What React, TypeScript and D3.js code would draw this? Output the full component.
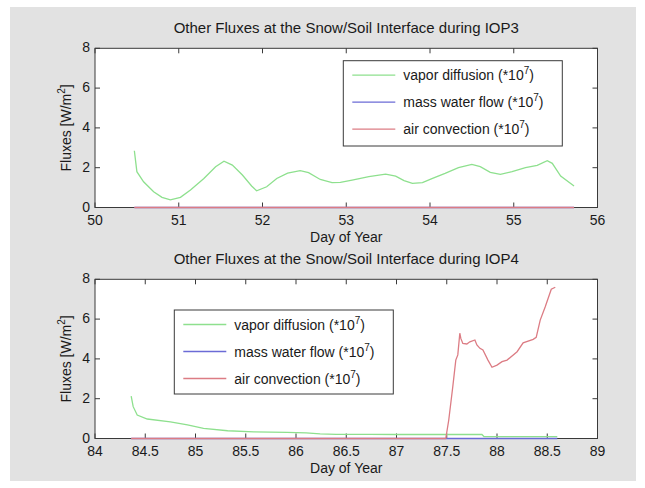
import React from "react";
import * as d3 from "d3";

// IOP3 fluxes (values scaled by 1e7)
const iop3VaporDay = [50.47, 50.5, 50.58, 50.7, 50.8, 50.9, 51.02, 51.14, 51.3, 51.44, 51.54, 51.64, 51.76, 51.87, 51.93, 52.05, 52.17, 52.3, 52.45, 52.55, 52.69, 52.83, 52.93, 53.07, 53.27, 53.47, 53.59, 53.69, 53.79, 53.91, 54.03, 54.18, 54.34, 54.5, 54.6, 54.72, 54.84, 54.98, 55.14, 55.28, 55.4, 55.46, 55.56, 55.72];
const iop3Vapor = [2.85, 1.8, 1.29, 0.79, 0.51, 0.38, 0.51, 0.88, 1.46, 2.05, 2.33, 2.13, 1.63, 1.08, 0.84, 1.04, 1.46, 1.73, 1.85, 1.75, 1.41, 1.25, 1.26, 1.38, 1.55, 1.68, 1.58, 1.35, 1.21, 1.25, 1.46, 1.71, 2.0, 2.17, 2.05, 1.77, 1.67, 1.8, 2.0, 2.12, 2.35, 2.22, 1.58, 1.08];
const iop3MassDay = [50.47, 55.72];
const iop3Mass = [0, 0];
const iop3AirDay = [50.47, 55.72];
const iop3Air = [0, 0];

// IOP4 fluxes (values scaled by 1e7)
const iop4VaporDay = [84.36, 84.38, 84.42, 84.52, 84.75, 84.92, 85.08, 85.32, 85.58, 85.91, 86.1, 86.24, 86.4, 86.74, 87.0, 87.5, 87.85, 87.87, 88.6];
const iop4Vapor = [2.13, 1.6, 1.18, 0.98, 0.84, 0.68, 0.51, 0.39, 0.33, 0.31, 0.28, 0.23, 0.21, 0.21, 0.2, 0.2, 0.2, 0.1, 0.09];
const iop4MassDay = [84.36, 88.6];
const iop4Mass = [0, 0];
const iop4AirDay = [84.36, 87.49, 87.52, 87.56, 87.59, 87.61, 87.63, 87.64, 87.66, 87.7, 87.73, 87.78, 87.8, 87.83, 87.86, 87.91, 87.95, 88.0, 88.05, 88.1, 88.2, 88.26, 88.36, 88.39, 88.43, 88.48, 88.54, 88.58];
const iop4Air = [0, 0, 0.93, 2.6, 3.94, 4.2, 5.29, 5.03, 4.78, 4.75, 4.86, 4.95, 4.7, 4.53, 4.45, 3.94, 3.58, 3.69, 3.86, 3.94, 4.36, 4.81, 4.98, 5.08, 5.95, 6.62, 7.5, 7.6];

const iop3Ticks = [50, 51, 52, 53, 54, 55, 56];
const iop4Ticks = [84, 84.5, 85, 85.5, 86, 86.5, 87, 87.5, 88, 88.5, 89];
const yTicks = [0, 2, 4, 6, 8];

const seriesNames = ["vapor diffusion", "mass water flow", "air convection"];
const seriesColors = ["#8ee08e", "#6b6bd6", "#dc7c84"];

const FONT = "'Liberation Sans', Arial, Helvetica, sans-serif";
const FS = 14;
const AXIS = "#3a3a3a";

type Series = { day: number[]; val: number[] };

function Panel(props: {
  top: number;
  bottom: number;
  domain: [number, number];
  ticks: number[];
  title: string;
  series: Series[];
  legend: { x: number; y: number; w: number; h: number };
}) {
  const { top, bottom, domain, ticks, title, series, legend } = props;
  const left = 95;
  const right = 597.5;
  const x = d3.scaleLinear().domain(domain).range([left, right]);
  const y = d3.scaleLinear().domain([0, 8]).range([bottom, top]);
  const tl = 5;

  return (
    <g>
      <text x={(left + right) / 2} y={top - 15} textAnchor="middle" fontSize={15} fill="#1a1a1a">
        {title}
      </text>
      <rect x={left} y={top} width={right - left} height={bottom - top} fill="#ffffff" stroke={AXIS} strokeWidth={1} />
      {ticks.map((t) => (
        <g key={"x" + t}>
          <line x1={x(t)} x2={x(t)} y1={bottom} y2={bottom - tl} stroke={AXIS} />
          <line x1={x(t)} x2={x(t)} y1={top} y2={top + tl} stroke={AXIS} />
          <text x={x(t)} y={bottom + 17.5} textAnchor="middle" fontSize={FS} fill="#1a1a1a">
            {String(t)}
          </text>
        </g>
      ))}
      {yTicks.map((t) => (
        <g key={"y" + t}>
          <line x1={left} x2={left + tl} y1={y(t)} y2={y(t)} stroke={AXIS} />
          <line x1={right} x2={right - tl} y1={y(t)} y2={y(t)} stroke={AXIS} />
          <text x={left - 5} y={y(t) + 4} textAnchor="end" fontSize={FS} fill="#1a1a1a">
            {t}
          </text>
        </g>
      ))}
      {/* data lines drawn over the axes frame so the zero-level traces stay visible */}
      {series.map((s, i) => {
        const pts = s.day.map((d, k) => [d, s.val[k]] as [number, number]);
        const path = d3
          .line<[number, number]>()
          .x((p) => x(p[0]))
          .y((p) => y(p[1]))(pts);
        return <path key={i} d={path || ""} fill="none" stroke={seriesColors[i]} strokeWidth={1.3} />;
      })}
      <text x={(left + right) / 2} y={bottom + 34.5} textAnchor="middle" fontSize={FS} fill="#1a1a1a">
        Day of Year
      </text>
      <text
        transform={`translate(71, ${(top + bottom) / 2}) rotate(-90)`}
        textAnchor="middle"
        fontSize={FS}
        fill="#1a1a1a"
      >
        Fluxes [W/m<tspan fontSize={10} dy={-6}>2</tspan>
        <tspan dy={6}>]</tspan>
      </text>
      {/* legend */}
      <rect x={legend.x} y={legend.y} width={legend.w} height={legend.h} fill="#ffffff" stroke={AXIS} strokeWidth={1} />
      {seriesNames.map((n, i) => {
        const ly = legend.y + 14.5 + i * 27;
        return (
          <g key={n}>
            <line x1={legend.x + 9} x2={legend.x + 52} y1={ly} y2={ly} stroke={seriesColors[i]} strokeWidth={1.3} />
            <text x={legend.x + 60} y={ly + 5} fontSize={FS} fill="#1a1a1a">
              {n} (*10<tspan fontSize={10} dy={-6}>7</tspan>
              <tspan dy={6}>)</tspan>
            </text>
          </g>
        );
      })}
    </g>
  );
}

export default function App() {
  return (
    <svg
      width={645}
      height={488}
      style={{ position: "absolute", left: 0, top: 0, fontFamily: FONT }}
    >
      <rect x={0} y={0} width={645} height={488} fill="#ffffff" />
      <rect x={10} y={7} width={626} height={474} fill="#e2e2e2" />
      <Panel
        top={48.3}
        bottom={207.5}
        domain={[50, 56]}
        ticks={iop3Ticks}
        title="Other Fluxes at the Snow/Soil Interface during IOP3"
        series={[
          { day: iop3VaporDay, val: iop3Vapor },
          { day: iop3MassDay, val: iop3Mass },
          { day: iop3AirDay, val: iop3Air },
        ]}
        legend={{ x: 343.3, y: 60.7, w: 219, h: 85.3 }}
      />
      <Panel
        top={279.3}
        bottom={438.5}
        domain={[84, 89]}
        ticks={iop4Ticks}
        title="Other Fluxes at the Snow/Soil Interface during IOP4"
        series={[
          { day: iop4VaporDay, val: iop4Vapor },
          { day: iop4MassDay, val: iop4Mass },
          { day: iop4AirDay, val: iop4Air },
        ]}
        legend={{ x: 174.3, y: 310, w: 219, h: 84 }}
      />
    </svg>
  );
}
